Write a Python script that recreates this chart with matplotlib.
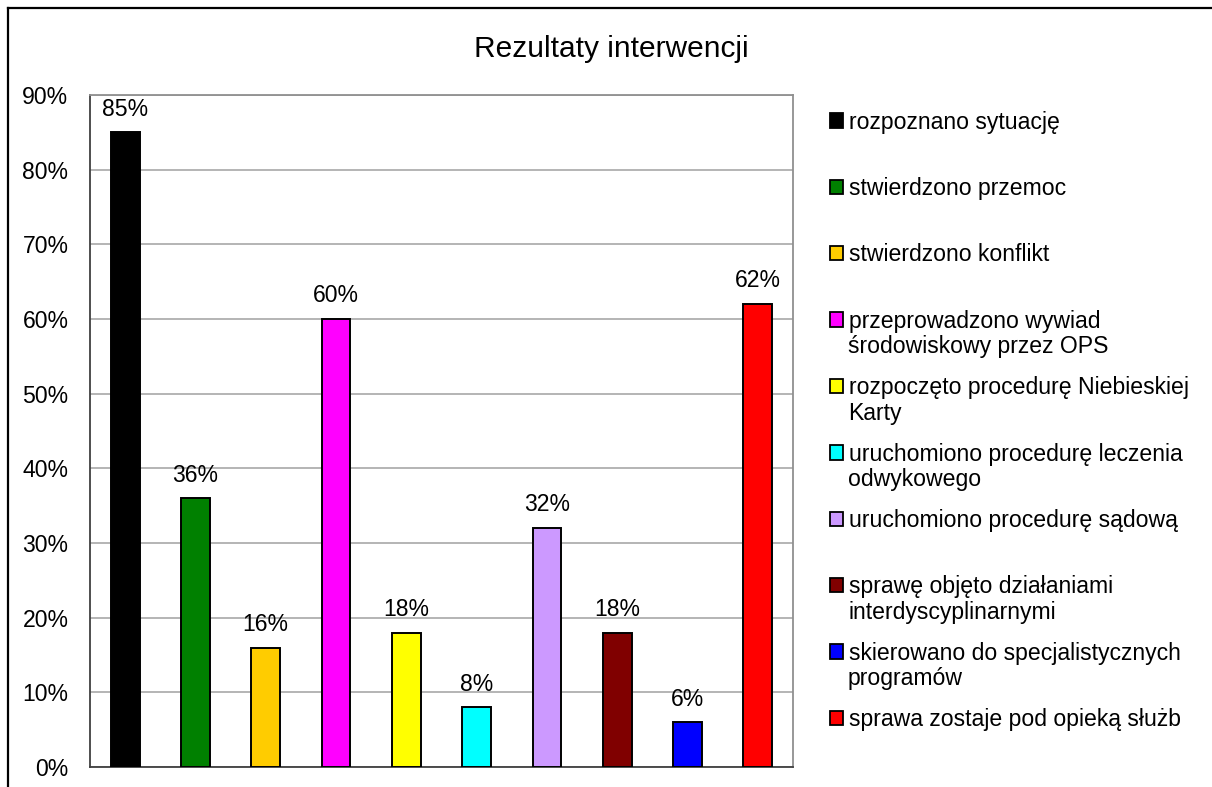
import matplotlib
matplotlib.use("Agg")
import matplotlib.pyplot as plt
from matplotlib.patches import Patch
from matplotlib.lines import Line2D
from matplotlib.ticker import FuncFormatter

# dane wykresu
categories = [
    "rozpoznano sytuację",
    "stwierdzono przemoc",
    "stwierdzono konflikt",
    "przeprowadzono wywiad\nśrodowiskowy przez OPS",
    "rozpoczęto procedurę Niebieskiej\nKarty",
    "uruchomiono procedurę leczenia\nodwykowego",
    "uruchomiono procedurę sądową",
    "sprawę objęto działaniami\ninterdyscyplinarnymi",
    "skierowano do specjalistycznych\nprogramów",
    "sprawa zostaje pod opieką służb",
]
values = [85, 36, 16, 60, 18, 8, 32, 18, 6, 62]
colors = ["#000000", "#008000", "#FFCC00", "#FF00FF", "#FFFF00",
          "#00FFFF", "#CC99FF", "#800000", "#0000FF", "#FF0000"]
yticks = [0, 10, 20, 30, 40, 50, 60, 70, 80, 90]
title = "Rezultaty interwencji"

W, H = 1212, 787
FS = 16.6
plt.rcParams['font.family'] = ['Liberation Sans', 'DejaVu Sans']

fig = plt.figure(figsize=(W / 100, H / 100), dpi=100)
ax = fig.add_axes([90 / W, 1 - 767 / H, (793 - 90) / W, (767 - 95) / H])

x = list(range(len(values)))
ax.bar(x, values, width=0.41, color=colors, edgecolor="black", linewidth=1.4, zorder=3)

# etykiety nad słupkami
for xi, v in zip(x, values):
    ax.annotate(f"{v}%", (xi, v), xytext=(0, 12), textcoords="offset points",
                ha="center", va="baseline", fontsize=FS)

ax.set_xlim(-0.5, len(values) - 0.5)
ax.set_ylim(0, 90)
ax.set_yticks(yticks)
ax.yaxis.set_major_formatter(FuncFormatter(lambda v, p: f"{v:.0f}%"))
ax.set_xticks([])
ax.tick_params(axis="y", length=0, pad=15.5, labelsize=FS)
ax.grid(axis="y", color="#A0A0A0", linewidth=1.1, zorder=0)
for side in ["top", "right"]:
    ax.spines[side].set_color("#909090")
    ax.spines[side].set_linewidth(1.3)
for side in ["left", "bottom"]:
    ax.spines[side].set_color("#404040")
    ax.spines[side].set_linewidth(1.3)

fig.text(611 / W, 1 - 57 / H, title, ha="center", va="baseline", fontsize=21.5)

# legenda - każdy wpis osobno, równo rozłożone
y0, step = 122, 66.4
for i, (lab, col) in enumerate(zip(categories, colors)):
    yc = y0 + step * i
    lines = lab.split("\n")
    fig.legend(handles=[Patch(facecolor=col, edgecolor="black", linewidth=1.3)],
               labels=[lines[0]], loc="center left",
               bbox_to_anchor=(830 / W, 1 - yc / H), frameon=False,
               borderpad=0, borderaxespad=0, fontsize=FS,
               handlelength=0.58, handleheight=0.58, handletextpad=0.24)
    for j, extra in enumerate(lines[1:], start=1):
        fig.text(848 / W, 1 - (yc + 25.5 * j) / H, extra, ha="left", va="center", fontsize=FS)

# ramka wykresu (widoczna tylko góra i lewa strona)
fig.add_artist(Line2D([8 / W, 8 / W], [0, 1 - 8 / H], transform=fig.transFigure,
                      color="black", linewidth=1.6))
fig.add_artist(Line2D([8 / W, 1], [1 - 8 / H, 1 - 8 / H], transform=fig.transFigure,
                      color="black", linewidth=1.6))

fig.savefig("out.png", dpi=100)
